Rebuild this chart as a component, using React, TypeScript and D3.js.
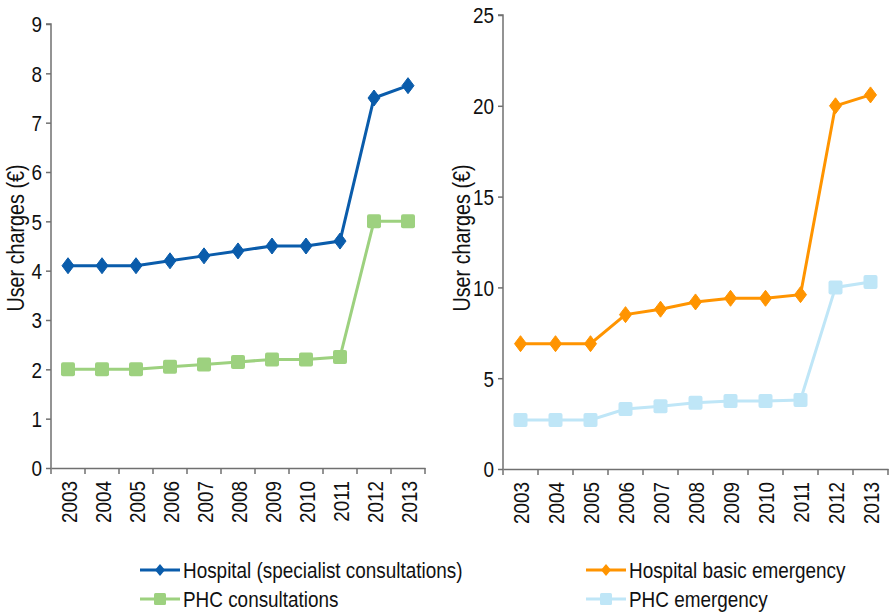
import React, { useRef, useEffect } from 'react';
import * as d3 from 'd3';

const YEARS = ['2003', '2004', '2005', '2006', '2007', '2008', '2009', '2010', '2011', '2012', '2013'];

const HOSPITAL_CONSULT = [4.1, 4.1, 4.1, 4.2, 4.3, 4.4, 4.5, 4.5, 4.6, 7.5, 7.75];
const PHC_CONSULT = [2.0, 2.0, 2.0, 2.05, 2.1, 2.15, 2.2, 2.2, 2.25, 5.0, 5.0];
const HOSPITAL_EMERG = [6.9, 6.9, 6.9, 8.5, 8.8, 9.2, 9.4, 9.4, 9.6, 20.0, 20.6];
const PHC_EMERG = [2.7, 2.7, 2.7, 3.3, 3.45, 3.65, 3.75, 3.75, 3.8, 10.0, 10.3];

const LEFT_TICKS = [0, 1, 2, 3, 4, 5, 6, 7, 8, 9];
const RIGHT_TICKS = [0, 5, 10, 15, 20, 25];

// narrow look: Liberation Sans squeezed horizontally
const FONT = '"Liberation Sans", Arial, sans-serif';
const SQUEEZE = 0.86;
const AXIS_COLOR = '#707070';

interface Series {
  name: string;
  values: number[];
  color: string;
  marker: 'diamond' | 'square';
}

interface Panel {
  x0: number;
  x1: number;
  yTop: number;
  yBottom: number;
  max: number;
  ticks: number[];
  labelX: number;
  series: Series[];
  legendX: number;
}

const PANELS: Panel[] = [
  {
    x0: 51, x1: 425, yTop: 24, yBottom: 468, max: 9, ticks: LEFT_TICKS, labelX: 16, legendX: 140,
    series: [
      { name: 'Hospital (specialist consultations)', values: HOSPITAL_CONSULT, color: '#0A5CAB', marker: 'diamond' },
      { name: 'PHC consultations', values: PHC_CONSULT, color: '#9DD17F', marker: 'square' },
    ],
  },
  {
    x0: 503, x1: 888, yTop: 15, yBottom: 469, max: 25, ticks: RIGHT_TICKS, labelX: 462, legendX: 586,
    series: [
      { name: 'Hospital basic emergency', values: HOSPITAL_EMERG, color: '#FF9400', marker: 'diamond' },
      { name: 'PHC emergency', values: PHC_EMERG, color: '#BFE6F7', marker: 'square' },
    ],
  },
];

function drawMarker(g: d3.Selection<SVGGElement, unknown, null, undefined>, kind: string, cx: number, cy: number, color: string) {
  if (kind === 'diamond') {
    g.append('path')
      .attr('d', `M${cx},${cy - 8} L${cx + 6},${cy} L${cx},${cy + 8} L${cx - 6},${cy} Z`)
      .attr('fill', color)
      .attr('stroke', color)
      .attr('stroke-width', 1)
      .attr('stroke-linejoin', 'round');
  } else {
    g.append('rect')
      .attr('x', cx - 7)
      .attr('y', cy - 7)
      .attr('width', 14)
      .attr('height', 14)
      .attr('rx', 2)
      .attr('fill', color);
  }
}

export default function App() {
  const ref = useRef<SVGSVGElement | null>(null);

  useEffect(() => {
    const svg = d3.select(ref.current);
    svg.selectAll('*').remove();

    PANELS.forEach((p) => {
      const x = d3.scaleBand().domain(YEARS).range([p.x0, p.x1]);
      const y = d3.scaleLinear().domain([0, p.max]).range([p.yBottom, p.yTop]);
      const g = svg.append('g');

      // Y axis
      const yAxis = g.append('g')
        .attr('transform', `translate(${p.x0},0)`)
        .call(d3.axisLeft(y).tickValues(p.ticks).tickSize(5).tickFormat(d3.format('d')));
      yAxis.selectAll('path, line').attr('stroke', AXIS_COLOR).attr('stroke-width', 1.5);
      yAxis.select('.domain').attr('d', `M-5,${p.yTop}H0V${p.yBottom}`);
      yAxis.selectAll('text')
        .attr('font-family', FONT)
        .attr('font-size', 22)
        .attr('fill', '#111')
        .attr('x', 0)
        .attr('dy', '0.36em')
        .attr('transform', `translate(-9,0) scale(${SQUEEZE},1)`);

      // X axis
      const xAxis = g.append('g')
        .attr('transform', `translate(0,${p.yBottom})`)
        .call(d3.axisBottom(x).tickSize(0).tickSizeOuter(0));
      xAxis.selectAll('path').attr('stroke', AXIS_COLOR).attr('stroke-width', 1.5);
      xAxis.selectAll('.tick text')
        .attr('font-family', FONT)
        .attr('font-size', 22)
        .attr('fill', '#111')
        .attr('x', 0)
        .attr('y', 0)
        .attr('dy', '0.36em')
        .attr('text-anchor', 'end')
        .attr('transform', `translate(1,13) rotate(-90) scale(${SQUEEZE},1)`);
      // boundary ticks between categories
      const bounds = YEARS.map((yr) => x(yr)!).concat([p.x1]);
      xAxis.selectAll('line.bound')
        .data(bounds)
        .join('line')
        .attr('class', 'bound')
        .attr('x1', (d) => d)
        .attr('x2', (d) => d)
        .attr('y1', 0)
        .attr('y2', 6)
        .attr('stroke', AXIS_COLOR)
        .attr('stroke-width', 1.5);

      // Y label
      g.append('text')
        .attr('transform', `translate(${p.labelX},238) rotate(-90) scale(${SQUEEZE},1)`)
        .attr('text-anchor', 'middle')
        .attr('dy', '0.35em')
        .attr('font-family', FONT)
        .attr('font-size', 23)
        .attr('fill', '#111')
        .text('User charges (€)');

      // Series
      const line = d3.line<number>()
        .x((_, i) => x(YEARS[i])! + x.bandwidth() / 2)
        .y((d) => y(d));

      p.series.forEach((s) => {
        g.append('path')
          .datum(s.values)
          .attr('d', line)
          .attr('fill', 'none')
          .attr('stroke', s.color)
          .attr('stroke-width', 3);
        const mg = g.append('g');
        s.values.forEach((v, i) => {
          drawMarker(mg, s.marker, x(YEARS[i])! + x.bandwidth() / 2, y(v), s.color);
        });
      });

      // Legend
      p.series.forEach((s, i) => {
        const ly = 570 + i * 29;
        const lg = svg.append('g');
        lg.append('line')
          .attr('x1', p.legendX)
          .attr('x2', p.legendX + 40)
          .attr('y1', ly)
          .attr('y2', ly)
          .attr('stroke', s.color)
          .attr('stroke-width', 3);
        if (s.marker === 'diamond') {
          lg.append('path')
            .attr('d', `M${p.legendX + 20},${ly - 6} L${p.legendX + 25},${ly} L${p.legendX + 20},${ly + 6} L${p.legendX + 15},${ly} Z`)
            .attr('fill', s.color);
        } else {
          lg.append('rect')
            .attr('x', p.legendX + 14)
            .attr('y', ly - 6)
            .attr('width', 12)
            .attr('height', 12)
            .attr('rx', 1.5)
            .attr('fill', s.color);
        }
        lg.append('text')
          .attr('transform', `translate(${p.legendX + 43},${ly}) scale(${SQUEEZE},1)`)
          .attr('dy', '0.35em')
          .attr('font-family', FONT)
          .attr('font-size', 22)
          .attr('fill', '#111')
          .text(s.name);
      });
    });
  }, []);

  return (
    <svg
      ref={ref}
      width={889}
      height={612}
      style={{ position: 'absolute', left: 0, top: 0, background: '#fff' }}
    />
  );
}
